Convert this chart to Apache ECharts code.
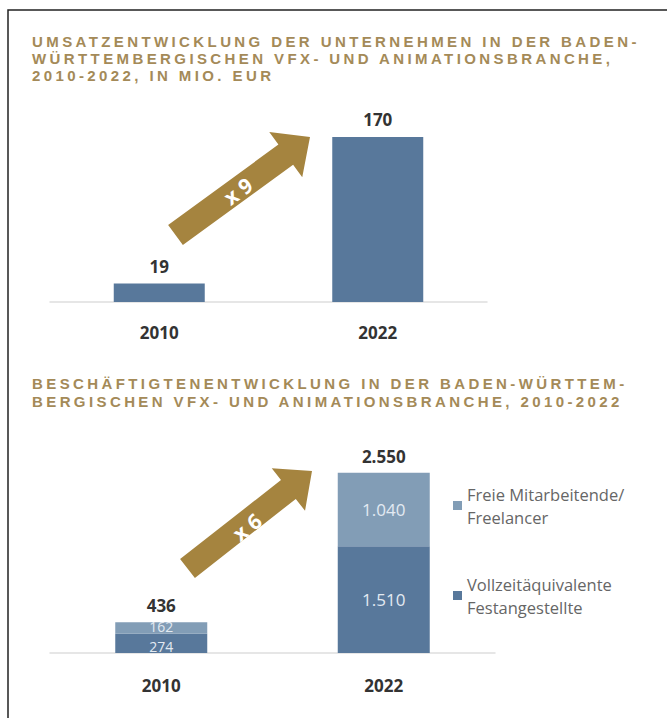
<!DOCTYPE html>
<html>
<head>
<meta charset="utf-8">
<script src="https://cdn.jsdelivr.net/npm/echarts@6/dist/echarts.min.js"></script>
<style>
  html, body { margin: 0; padding: 0; background: #fff; }
  #chart { width: 667px; height: 718px; }
  #chart text[fill="#a48a58"] { letter-spacing: 3.4px; }
</style>
</head>
<body>
<div id="chart"></div>
<script>
// ---- data ----
const years = ['2010', '2022'];
const revenue = [19, 170];                 // Mio. EUR
const employeesFull = [274, 1510];        // Vollzeitäquivalente Festangestellte
const employeesFree = [162, 1040];        // Freie Mitarbeitende / Freelancer
const employeesTotal = [436, 2550];
const nameFull = 'Vollzeitäquivalente\nFestangestellte';
const nameFree = 'Freie Mitarbeitende/\nFreelancer';
const title1 = 'UMSATZENTWICKLUNG DER UNTERNEHMEN IN DER BADEN-\nWÜRTTEMBERGISCHEN VFX- UND ANIMATIONSBRANCHE,\n2010-2022, IN MIO. EUR';
const title2 = 'BESCHÄFTIGTENENTWICKLUNG IN DER BADEN-WÜRTTEM-\nBERGISCHEN VFX- UND ANIMATIONSBRANCHE, 2010-2022';
const factorTop = 'x 9';
const factorBottom = 'x 6';

const GOLD = '#a48a58';
const ARROW = '#a5843f';
const DARK = '#58789b';
const LIGHT = '#829db6';
const FONT = 'Open Sans';
const TFONT = 'Liberation Sans';

function fmt(v) { return String(v).replace(/\B(?=(\d{3})+(?!\d))/g, '.'); }

function arrowPoints(tx, ty, hx, hy, bw, hw, hl) {
  const dx = hx - tx, dy = hy - ty, len = Math.hypot(dx, dy);
  const ux = dx / len, uy = dy / len, px = -uy, py = ux;
  const bx = hx - ux * hl, by = hy - uy * hl;
  return [
    [tx + px * bw, ty + py * bw], [bx + px * bw, by + py * bw], [bx + px * hw, by + py * hw],
    [hx, hy],
    [bx - px * hw, by - py * hw], [bx - px * bw, by - py * bw], [tx - px * bw, ty - py * bw]
  ];
}
function arrowGraphic(tx, ty, hx, hy, bw, hw, hl, label, cx, cy) {
  const ang = Math.atan2(-(hy - ty), hx - tx);
  return [
    { type: 'polygon', shape: { points: arrowPoints(tx, ty, hx, hy, bw, hw, hl) }, style: { fill: ARROW }, z: 5 },
    { type: 'text', x: cx, y: cy, rotation: ang, z: 6,
      style: { text: label, fill: '#fff', font: 'bold 21px "' + FONT + '"', align: 'center', verticalAlign: 'middle' } }
  ];
}

const chart = echarts.init(document.getElementById('chart'), null, { renderer: 'svg' });

const catAxis = (gi, margin) => ({
  type: 'category', gridIndex: gi, data: years,
  axisLine: { show: true, lineStyle: { color: '#dedede', width: 1.5 } },
  axisTick: { show: false },
  axisLabel: { margin: margin, fontSize: 17, fontWeight: 'bold', color: '#333', fontFamily: FONT }
});
const valAxis = (gi, max) => ({ type: 'value', gridIndex: gi, min: 0, max: max, show: false, splitLine: { show: false } });

chart.setOption({
  backgroundColor: '#fff',
  animation: false,
  textStyle: { fontFamily: FONT },
  title: [
    { text: title1, left: 32, top: 33, padding: 0,
      textStyle: { fontSize: 15, fontWeight: 'bold', color: GOLD, lineHeight: 17, fontFamily: TFONT } },
    { text: title2, left: 32, top: 374, padding: 0,
      textStyle: { fontSize: 15, fontWeight: 'bold', color: GOLD, lineHeight: 18, fontFamily: TFONT } }
  ],
  legend: {
    data: [nameFree, nameFull],
    orient: 'vertical', left: 453, top: 471, padding: 0,
    itemWidth: 9, itemHeight: 9, itemGap: 21, icon: 'rect',
    selectedMode: false,
    textStyle: { fontSize: 16.5, color: '#666', lineHeight: 23, padding: [23, 0, 0, 0], fontFamily: FONT }
  },
  grid: [
    { left: 50, right: 180, top: 108, height: 194 },
    { left: 50, right: 172, top: 441, height: 212 }
  ],
  xAxis: [catAxis(0, 22), catAxis(1, 24)],
  yAxis: [valAxis(0, 200), valAxis(1, 3000)],
  series: [
    {
      name: 'Umsatz', type: 'bar', xAxisIndex: 0, yAxisIndex: 0, data: revenue,
      barWidth: 91, itemStyle: { color: DARK },
      label: { show: true, position: 'top', distance: 9, fontSize: 17, fontWeight: 'bold', color: '#333', formatter: p => fmt(p.value) }
    },
    {
      name: nameFull, type: 'bar', stack: 'emp', xAxisIndex: 1, yAxisIndex: 1,
      data: employeesFull.map((v, i) => i === 0 ? { value: v, label: { fontSize: 14, offset: [0, 3] } } : v),
      barWidth: 92, itemStyle: { color: DARK },
      label: { show: true, position: 'inside', fontSize: 17, color: '#e3eaf2', formatter: p => fmt(p.value) }
    },
    {
      name: nameFree, type: 'bar', stack: 'emp', xAxisIndex: 1, yAxisIndex: 1,
      data: employeesFree.map((v, i) => i === 0 ? { value: v, label: { fontSize: 14, offset: [0, -1] } } : v),
      barWidth: 92, itemStyle: { color: LIGHT },
      label: { show: true, position: 'inside', fontSize: 17, color: '#e3eaf2', formatter: p => fmt(p.value) }
    },
    {
      name: 'Gesamt', type: 'bar', xAxisIndex: 1, yAxisIndex: 1, data: employeesTotal,
      barWidth: 92, barGap: '-100%', itemStyle: { color: 'rgba(0,0,0,0)' }, silent: true,
      label: { show: true, position: 'top', distance: 8, fontSize: 17, fontWeight: 'bold', color: '#333', formatter: p => fmt(p.value) }
    }
  ],
  graphic: [
    { type: 'polyline', shape: { points: [[8, 718], [8, 10], [667, 10]] }, style: { stroke: '#222', lineWidth: 1.5, fill: null }, z: 10 },
    ...arrowGraphic(175.5, 235, 310, 137, 12.5, 28, 30, factorTop, 238, 191),
    ...arrowGraphic(187.5, 568.5, 312, 471, 12, 27, 30, factorBottom, 247, 527)
  ]
});
</script>
</body>
</html>
